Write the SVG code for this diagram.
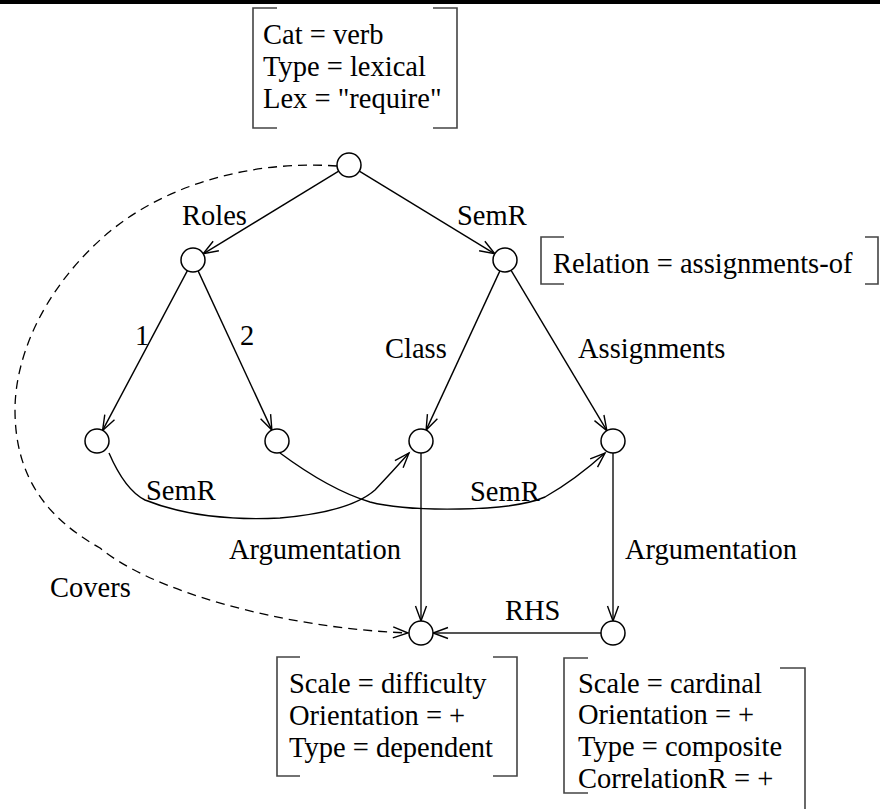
<svg xmlns="http://www.w3.org/2000/svg" width="880" height="809" viewBox="0 0 880 809">
<style>
text{font-family:'Liberation Serif','DejaVu Serif',serif;font-size:28.5px;fill:#000}
.node{fill:#fff;stroke:#000;stroke-width:1.5}
.edge{fill:none;stroke:#000;stroke-width:1.4}
.vert{fill:none;stroke:#555;stroke-width:2}
.dash{fill:none;stroke:#000;stroke-width:1.3;stroke-dasharray:9,6}
.br{fill:none;stroke:#444;stroke-width:1.6}
</style>
<defs>
<marker id="arr" markerUnits="userSpaceOnUse" markerWidth="20" markerHeight="16" viewBox="-16 -8 18 16" refX="0" refY="0" orient="auto" overflow="visible">
<path d="M-15,-5.5 L0,0 L-15,5.5" fill="none" stroke="#000" stroke-width="1.4"/>
</marker>
</defs>
<rect x="0" y="0" width="880" height="4" fill="#000"/>

<g id="connectors" font-family="Liberation Serif, DejaVu Serif, serif">
<line class="edge" x1="338.7" y1="171.2" x2="203.2" y2="253.8" marker-end="url(#arr)"/>
<line class="edge" x1="359.3" y1="171.2" x2="494.8" y2="253.8" marker-end="url(#arr)"/>
<line class="edge" x1="187.4" y1="270.6" x2="102.6" y2="430.4" marker-end="url(#arr)"/>
<line class="edge" x1="198.1" y1="270.9" x2="271.9" y2="430.1" marker-end="url(#arr)"/>
<line class="edge" x1="499.9" y1="270.9" x2="426.1" y2="430.1" marker-end="url(#arr)"/>
<line class="edge" x1="511.1" y1="270.3" x2="606.9" y2="430.7" marker-end="url(#arr)"/>
<line class="vert" x1="421" y1="453" x2="421" y2="621" marker-end="url(#arr)"/>
<line class="vert" x1="613" y1="453" x2="613" y2="621" marker-end="url(#arr)"/>
<line class="vert" x1="601" y1="633" x2="433" y2="633" marker-end="url(#arr)"/>
<path class="edge" d="M109,453 Q125,490 145,500 Q200,522 280,518 Q350,512 375,490 Q392,472 409,453" marker-end="url(#arr)"/>
<path class="edge" d="M280,453 Q330,490 370,502 Q400,510 460,509 Q520,508 545,497 Q575,480 605,453" marker-end="url(#arr)"/>
<path class="dash" d="M337,166 C250,160 160,185 100,240 C40,295 15,360 15,410 C15,480 50,520 100,548 C150,590 280,628 408,633" marker-end="url(#arr)"/>
<text x="182" y="225">Roles</text>
<text x="457" y="225">SemR</text>
<text x="135" y="345">1</text>
<text x="240" y="345">2</text>
<text x="385" y="358">Class</text>
<text x="578" y="358">Assignments</text>
<text x="146" y="500">SemR</text>
<text x="470" y="501">SemR</text>
<text x="229" y="559">Argumentation</text>
<text x="625" y="559">Argumentation</text>
<text x="50" y="597">Covers</text>
<text x="505" y="620">RHS</text>
</g>

<g id="n-top"><circle class="node" cx="349" cy="165" r="12"/></g>
<g id="n-roles"><circle class="node" cx="193" cy="260" r="12"/></g>
<g id="n-semr"><circle class="node" cx="505" cy="260" r="12"/></g>
<g id="n-1"><circle class="node" cx="97" cy="441" r="12"/></g>
<g id="n-2"><circle class="node" cx="277" cy="441" r="12"/></g>
<g id="n-class"><circle class="node" cx="421" cy="441" r="12"/></g>
<g id="n-assign"><circle class="node" cx="613" cy="441" r="12"/></g>
<g id="n-arg1"><circle class="node" cx="421" cy="633" r="12"/></g>
<g id="n-arg2"><circle class="node" cx="613" cy="633" r="12"/></g>

<g id="box-top">
<path class="br" d="M277,8 H253 V128 H277 M433,8 H457 V128 H433"/>
<text x="263" y="44">Cat = verb</text>
<text x="263" y="76">Type = lexical</text>
<text x="263" y="108">Lex = "require"</text>
</g>
<g id="box-relation">
<path class="br" d="M564,237 H541 V284 H564 M865,237 H878 V284 H865"/>
<text x="553" y="273">Relation = assignments-of</text>
</g>
<g id="box-difficulty">
<path class="br" d="M300,657 H277 V776 H300 M493,657 H517 V776 H493"/>
<text x="289" y="693">Scale = difficulty</text>
<text x="289" y="725">Orientation = +</text>
<text x="289" y="757">Type = dependent</text>
</g>
<g id="box-cardinal">
<path class="br" d="M588,658 H564 V793 H588 M780,668 H805 V809"/>
<text x="578" y="693">Scale = cardinal</text>
<text x="578" y="724">Orientation = +</text>
<text x="578" y="756">Type = composite</text>
<text x="578" y="788">CorrelationR = +</text>
</g>
</svg>
